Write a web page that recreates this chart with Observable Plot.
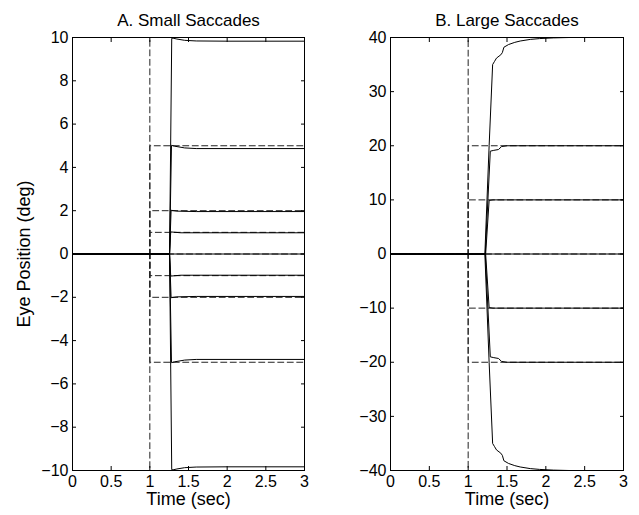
<!DOCTYPE html>
<html><head><meta charset="utf-8">
<script src="https://cdn.jsdelivr.net/npm/d3@7"></script>
<script src="https://cdn.jsdelivr.net/npm/@observablehq/plot@0.6"></script>
<style>
body{margin:0;background:#fff;}
#wrap{position:relative;width:639px;height:515px;background:#fff;font-family:"Liberation Sans",Arial,Helvetica,sans-serif;}
#wrap svg{position:absolute;top:0;}
</style></head><body><div id="wrap"></div>
<script>
// ---- data ----
const xTicks = [0, 0.5, 1, 1.5, 2, 2.5, 3];
const smallYTicks = [-10, -8, -6, -4, -2, 0, 2, 4, 6, 8, 10];
const largeYTicks = [-40, -30, -20, -10, 0, 10, 20, 30, 40];
const stepTime = 1;   // target step time (sec)
const endTime = 3;    // end of simulation (sec)
const smallTargets = [-10, -5, -2, -1, 0, 1, 2, 5, 10];
const largeTargets = [-40, -20, -10, 0, 10, 20, 40];

// eye position traces [time, deg] — small saccades
const smallEye10  = [[0,0],[1.255,0],[1.283,9.96],[1.3,9.97],[1.35,9.93],[1.45,9.87],[1.6,9.84],[2,9.83],[3,9.83]];
const smallEye5   = [[0,0],[1.255,0],[1.28,5.02],[1.32,4.98],[1.45,4.9],[1.6,4.87],[3,4.87]];
const smallEye2   = [[0,0],[1.255,0],[1.275,2.02],[1.35,1.98],[1.6,1.96],[3,1.96]];
const smallEye1   = [[0,0],[1.255,0],[1.27,1.02],[1.4,0.98],[3,0.98]];
const smallEye0   = [[0,0],[3,0]];
const smallEyeM1  = [[0,0],[1.255,0],[1.27,-1.02],[1.4,-0.98],[3,-0.98]];
const smallEyeM2  = [[0,0],[1.255,0],[1.275,-2.02],[1.35,-1.98],[1.6,-1.96],[3,-1.96]];
const smallEyeM5  = [[0,0],[1.255,0],[1.28,-5.02],[1.32,-4.98],[1.45,-4.9],[1.6,-4.87],[3,-4.87]];
const smallEyeM10 = [[0,0],[1.255,0],[1.283,-9.96],[1.3,-9.97],[1.35,-9.93],[1.45,-9.87],[1.6,-9.84],[2,-9.83],[3,-9.83]];

// eye position traces [time, deg] — large saccades
const largeEye40  = [[0,0],[1.215,0],[1.27,20],[1.315,35],[1.34,35.6],[1.365,36.2],[1.42,36.8],[1.44,37.2],[1.46,38.2],[1.52,38.7],[1.6,39.1],[1.67,39.35],[1.8,39.65],[1.92,39.8],[2.1,39.93],[2.3,40],[3,40]];
const largeEye20  = [[0,0],[1.22,0],[1.285,19],[1.33,19.15],[1.39,19.3],[1.43,19.85],[1.5,20],[3,20]];
const largeEye10  = [[0,0],[1.225,0],[1.27,9.9],[1.32,10],[3,10]];
const largeEye0   = [[0,0],[3,0]];
const largeEyeM10 = [[0,0],[1.225,0],[1.27,-9.9],[1.32,-10],[3,-10]];
const largeEyeM20 = [[0,0],[1.22,0],[1.285,-19],[1.33,-19.15],[1.39,-19.3],[1.43,-19.85],[1.5,-20],[3,-20]];
const largeEyeM40 = [[0,0],[1.215,0],[1.27,-20],[1.315,-35],[1.34,-35.6],[1.365,-36.2],[1.42,-36.8],[1.44,-37.2],[1.46,-38.2],[1.52,-38.7],[1.6,-39.1],[1.67,-39.35],[1.8,-39.65],[1.92,-39.8],[2.1,-39.93],[2.3,-40],[3,-40]];

const smallEye = [smallEyeM10, smallEyeM5, smallEyeM2, smallEyeM1, smallEye0, smallEye1, smallEye2, smallEye5, smallEye10];
const largeEye = [largeEyeM40, largeEyeM20, largeEyeM10, largeEye0, largeEye10, largeEye20, largeEye40];

// ---- drawing ----
const FONT = '"Liberation Sans", Arial, Helvetica, sans-serif';
const fmt = d => d < 0 ? "\u2212" + Math.abs(d) : String(d);

function panel({targets, eye, yTicks, title, ylabel, width, marginLeft, marginRight}) {
  const targetRows = targets.flatMap(tg =>
    [[0, 0], [stepTime, 0], [stepTime, tg], [endTime, tg]].map(([t, v]) => ({s: tg, t, v})));
  const eyeRows = eye.flatMap((tr, i) => tr.map(([t, v]) => ({s: i, t, v})));
  const yDom = [yTicks[0], yTicks[yTicks.length - 1]];
  return Plot.plot({
    width, height: 515,
    marginTop: 37, marginBottom: 45, marginLeft, marginRight,
    x: {domain: [0, endTime]},
    y: {domain: yDom},
    style: {fontFamily: FONT, fontSize: "16px", color: "black", background: "white", overflow: "visible"},
    marks: [
      Plot.line(targetRows, {x: "t", y: "v", z: "s", stroke: "#222", strokeWidth: 1, strokeDasharray: "6,3.5"}),
      Plot.line(eyeRows, {x: "t", y: "v", z: "s", stroke: "black", strokeWidth: 1}),
      Plot.frame({stroke: "black", strokeWidth: 1}),
      Plot.axisX({ticks: xTicks, anchor: "bottom", tickSize: -4, tickPadding: 9, tickFormat: fmt, label: null, fontSize: 16}),
      Plot.axisX({ticks: xTicks, anchor: "top", tickSize: -4, tickFormat: () => "", label: null}),
      Plot.axisY({ticks: yTicks, anchor: "left", tickSize: -4, tickPadding: 8, tickFormat: fmt, label: null, fontSize: 16}),
      Plot.axisY({ticks: yTicks, anchor: "right", tickSize: -4, tickFormat: () => "", label: null}),
      Plot.text([title], {frameAnchor: "top", textAnchor: "middle", lineAnchor: "bottom", dy: -12, fontSize: 17}),
      Plot.text(["Time (sec)"], {frameAnchor: "bottom", textAnchor: "middle", lineAnchor: "bottom", dy: 34, fontSize: 18}),
      ylabel ? Plot.text([ylabel], {frameAnchor: "left", textAnchor: "middle", lineAnchor: "bottom", rotate: -90, dx: -43, fontSize: 18}) : null
    ]
  });
}

const wrap = document.getElementById("wrap");
const left = panel({targets: smallTargets, eye: smallEye, yTicks: smallYTicks, title: "A. Small Saccades",
  ylabel: "Eye Position (deg)", width: 320, marginLeft: 72, marginRight: 16});
left.style.left = "0px";
const right = panel({targets: largeTargets, eye: largeEye, yTicks: largeYTicks, title: "B. Large Saccades",
  ylabel: null, width: 319, marginLeft: 70, marginRight: 16});
right.style.left = "320px";
wrap.appendChild(left);
wrap.appendChild(right);
</script>
</body></html>
